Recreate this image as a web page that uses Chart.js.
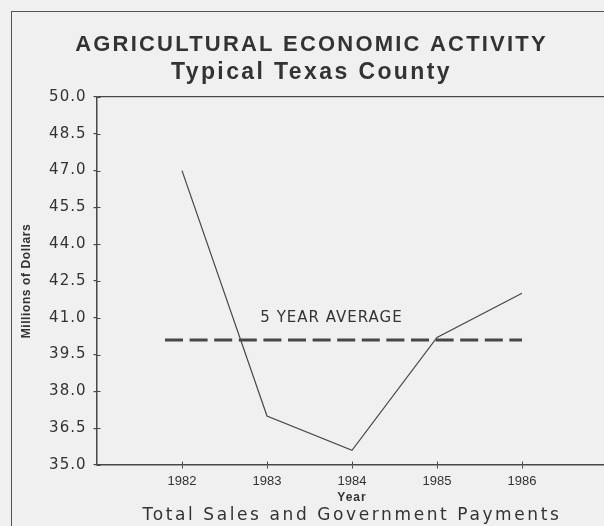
<!DOCTYPE html>
<html>
<head>
<meta charset="utf-8">
<script src="https://cdn.jsdelivr.net/npm/chart.js@4.4.1/dist/chart.umd.min.js"></script>
<style>
  html, body { margin: 0; padding: 0; background: #f0f0f0; overflow: hidden; width: 604px; height: 526px; }
  #frame { position: absolute; left: 11px; top: 11px; width: 700px; height: 600px;
           border-left: 1.5px solid #555; border-top: 1.5px solid #555; }
  #c { position: absolute; left: 0; top: 0; }
</style>
</head>
<body>
<div id="frame"></div>
<canvas id="c" width="612" height="526"></canvas>
<script>
// ---- data ----
const titleText = 'AGRICULTURAL ECONOMIC ACTIVITY';
const subtitleText = 'Typical Texas County';
const captionText = 'Total Sales and Government Payments';
const yAxisTitle = 'Millions of Dollars';
const xAxisTitle = 'Year';
const years = [1982, 1983, 1984, 1985, 1986];
const sales = [47.0, 37.0, 35.6, 40.2, 42.0];
const avgLabel = '5 YEAR AVERAGE';
const avgValue = 40.1;
const avgYears = [1981.8, 1986];
const yTicks = [35.0, 36.5, 38.0, 39.5, 41.0, 42.5, 44.0, 45.5, 47.0, 48.5, 50.0];
const xRange = [1981, 1987];

// ---- style ----
const ink = '#474747';
const textInk = '#333333';
const titleShift = 8;
const spacing = { title: '2.2px', subtitle: '2.4px', yLabels: '1px', yTitle: '0.6px', xLabels: '0px', xTitle: '1px', x2Title: '2.6px', avg: '1px' };

function withSpacing(ctx, sp, fn, dx) {
  const prev = ctx.letterSpacing;
  ctx.save();
  if (dx) ctx.translate(dx, 0);
  ctx.letterSpacing = sp;
  try { return fn(); } finally { ctx.restore(); ctx.letterSpacing = prev === undefined ? '0px' : prev; }
}

const spacingPlugin = {
  id: 'spacing',
  beforeDraw(chart) {
    const ctx = chart.ctx;
    const wrap = (obj, name, sp, dx) => {
      if (!obj || obj['_sp_' + name]) return;
      const orig = obj[name];
      obj[name] = function (...a) { return withSpacing(ctx, sp, () => orig.apply(this, a), dx); };
      obj['_sp_' + name] = true;
    };
    wrap(chart.titleBlock, 'draw', spacing.title, titleShift);
    const sub = (chart.boxes || []).find(b => b !== chart.titleBlock && b.options && b.options.text === subtitleText);
    wrap(sub, 'draw', spacing.subtitle, titleShift);
    wrap(chart.scales.y, 'drawLabels', spacing.yLabels);
    wrap(chart.scales.y, 'drawTitle', spacing.yTitle);
    wrap(chart.scales.x, 'drawLabels', spacing.xLabels);
    wrap(chart.scales.x, 'drawTitle', spacing.xTitle);
    wrap(chart.scales.x2, 'drawTitle', spacing.x2Title);
  }
};

const innerTicks = {
  id: 'innerTicks',
  afterDraw(chart) {
    const { ctx, scales: { x, y }, chartArea: a } = chart;
    ctx.save();
    ctx.strokeStyle = ink;
    ctx.lineWidth = 1;
    ctx.beginPath();
    y.ticks.forEach(t => {
      const p = Math.round(y.getPixelForValue(t.value)) + 0.5;
      ctx.moveTo(a.left, p); ctx.lineTo(a.left + 3.5, p);
    });
    x.ticks.forEach(t => {
      const p = Math.round(x.getPixelForValue(t.value)) + 0.5;
      ctx.moveTo(p, a.bottom); ctx.lineTo(p, a.bottom - 3.5);
    });
    ctx.stroke();
    ctx.restore();
  }
};

const avgLabelPlugin = {
  id: 'avgLabel',
  afterDatasetsDraw(chart) {
    const { ctx, scales: { x, y } } = chart;
    const cx = (x.getPixelForValue(avgYears[0]) + x.getPixelForValue(avgYears[1])) / 2 - 12;
    const cy = y.getPixelForValue(avgValue) - 21.5;
    ctx.save();
    ctx.font = "15px 'DejaVu Sans'";
    ctx.fillStyle = textInk;
    ctx.textAlign = 'center';
    ctx.textBaseline = 'middle';
    withSpacing(ctx, spacing.avg, () => ctx.fillText(avgLabel, cx, cy));
    ctx.restore();
  }
};

new Chart(document.getElementById('c'), {
  type: 'line',
  data: {
    datasets: [
      {
        label: 'Sales',
        data: years.map((yr, i) => ({ x: yr, y: sales[i] })),
        borderColor: ink,
        borderWidth: 1.2,
        pointRadius: 0,
        tension: 0,
        fill: false
      },
      {
        label: avgLabel,
        data: avgYears.map(yr => ({ x: yr, y: avgValue })),
        borderColor: ink,
        borderWidth: 3,
        borderDash: [18, 6.6],
        borderCapStyle: 'butt',
        pointRadius: 0,
        fill: false
      }
    ]
  },
  options: {
    responsive: false,
    animation: false,
    devicePixelRatio: 1,
    layout: { padding: { left: 0, right: 5, top: 0, bottom: 0 } },
    plugins: {
      legend: { display: false },
      tooltip: { enabled: false },
      title: {
        display: true,
        text: titleText,
        color: textInk,
        font: { family: "'Liberation Sans'", size: 22, weight: 'bold', lineHeight: 1.2727 },
        padding: { top: 31, bottom: 0 }
      },
      subtitle: {
        display: true,
        text: subtitleText,
        color: textInk,
        font: { family: "'Liberation Sans'", size: 23, weight: 'bold', lineHeight: 1.174 },
        padding: { top: 0, bottom: 11 }
      }
    },
    scales: {
      x: {
        type: 'linear',
        position: 'bottom',
        weight: 0,
        min: xRange[0],
        max: xRange[1],
        afterBuildTicks: s => { s.ticks = years.map(v => ({ value: v })); },
        afterFit: s => { s.height = 40; },
        ticks: {
          color: textInk,
          font: { family: "'Liberation Sans'", size: 13 },
          padding: 5,
          maxRotation: 0,
          callback: v => String(v)
        },
        grid: { drawOnChartArea: false, tickLength: 3.5, tickColor: ink },
        border: { display: true, color: ink, width: 1.5 },
        title: {
          display: true,
          text: xAxisTitle,
          color: textInk,
          font: { family: "'Liberation Sans'", size: 12, weight: 'bold', lineHeight: 1.2 },
          padding: { top: 0, bottom: 0 }
        }
      },
      x2: {
        type: 'linear',
        position: 'bottom',
        weight: 1,
        min: xRange[0],
        max: xRange[1],
        afterFit: s => { s.height = 21; },
        ticks: { display: false },
        grid: { display: false, drawTicks: false },
        border: { display: false },
        title: {
          display: true,
          text: captionText,
          color: textInk,
          font: { family: "'DejaVu Sans'", size: 17, weight: 'normal', lineHeight: 1.2 },
          padding: { top: 0, bottom: 0 }
        }
      },
      y: {
        type: 'linear',
        position: 'left',
        min: yTicks[0],
        max: yTicks[yTicks.length - 1],
        afterBuildTicks: s => { s.ticks = yTicks.map(v => ({ value: v })); },
        afterFit: s => { s.width = 97; },
        ticks: {
          color: textInk,
          font: { family: "'DejaVu Sans'", size: 15 },
          padding: 7,
          callback: v => Number(v).toFixed(1)
        },
        grid: {
          drawOnChartArea: true,
          tickLength: 3.5,
          tickColor: ink,
          lineWidth: 1.2,
          color: c => (c.tick && c.tick.value === yTicks[yTicks.length - 1]) ? ink : 'rgba(0,0,0,0)'
        },
        border: { display: true, color: ink, width: 1.5 },
        title: {
          display: true,
          text: yAxisTitle,
          color: textInk,
          font: { family: "'Liberation Sans'", size: 12, weight: 'bold', lineHeight: 1.2 },
          padding: { top: 19.8, bottom: 0 }
        }
      }
    }
  },
  plugins: [spacingPlugin, innerTicks, avgLabelPlugin]
});
</script>
</body>
</html>
